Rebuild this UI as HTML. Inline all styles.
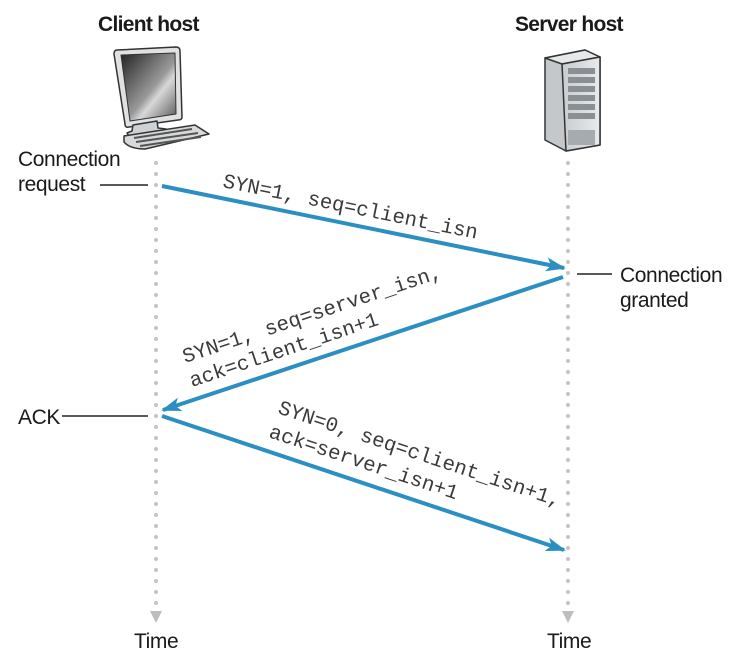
<!DOCTYPE html>
<html><head><meta charset="utf-8"><style>
html,body{margin:0;padding:0;background:#fff;}
svg{display:block;}
.h{font-family:"Liberation Sans",sans-serif;font-weight:bold;font-size:21px;fill:#1a1a1a;letter-spacing:-0.7px;}
.t{font-family:"Liberation Sans",sans-serif;font-size:21px;fill:#1a1a1a;letter-spacing:-0.4px;}
.m{font-family:"Liberation Mono",monospace;font-size:20.6px;fill:#3a3a3a;}
</style></head><body>
<svg width="741" height="666" viewBox="0 0 741 666" xmlns="http://www.w3.org/2000/svg">
<defs>
<linearGradient id="scr" x1="0" y1="0" x2="1" y2="1">
<stop offset="0" stop-color="#222"/><stop offset="0.55" stop-color="#9a9a9a"/><stop offset="0.65" stop-color="#d8d8d8"/><stop offset="1" stop-color="#555"/></linearGradient>
<linearGradient id="srv" x1="0" y1="0" x2="1" y2="0">
<stop offset="0" stop-color="#c8ccd0"/><stop offset="1" stop-color="#e8eaec"/></linearGradient>
<marker id="ah" viewBox="0 0 20 14" refX="18" refY="7" markerWidth="5" markerHeight="3.5" orient="auto" markerUnits="strokeWidth">
<path d="M0,0 L20,7 L0,14 L5,7 Z" fill="#2b8fc2"/></marker>
</defs>
<text class="h" x="98" y="31">Client host</text>
<text class="h" x="515" y="31">Server host</text>

<!-- client computer -->
<g stroke="#333" stroke-width="1.5" stroke-linejoin="round">
<path d="M117,50 L176,47 Q180,47 180,51 L182,117 Q182,120 178,120 L129,127 Q125,128 125,124 L114,54 Q114,50 117,50Z" fill="#dfe1e3"/>
<path d="M121,55 L175,53 L176,114 L130,121 Z" fill="url(#scr)" stroke-width="1"/>
<path d="M133,125 L132,131 L127,133 L130,138 L165,134 L166,129 L158,128 L157,121 Z" fill="#cfd2d4"/>
<path d="M124,136 L195,125 L209,134 L145,149 Q130,149 124,142 Z" fill="#d6d8da"/>
</g>
<g stroke="#555" stroke-width="2">
<line x1="134" y1="138" x2="192" y2="129"/><line x1="136" y1="142" x2="198" y2="133"/><line x1="140" y1="146" x2="201" y2="137"/></g>

<!-- server -->
<g stroke="#333" stroke-width="1.5" stroke-linejoin="round">
<path d="M545,58 L585,50 L600,57 L600,145 L566,151 L545,140 Z" fill="#c4c8cb"/>
<path d="M545,58 L585,50 L600,57 L562,64 Z" fill="#e6e8ea"/>
<path d="M562,64 L600,57 L600,145 L566,151 Z" fill="url(#srv)"/>
</g>
<g fill="#8a8f94">
<rect x="568" y="68" width="27" height="6"/><rect x="568" y="77" width="27" height="6"/><rect x="568" y="86" width="27" height="6"/>
<rect x="568" y="95" width="27" height="6"/><rect x="568" y="104" width="27" height="6"/><rect x="568" y="113" width="27" height="6"/>
<rect x="568" y="130" width="27" height="15" fill="#a6abaf"/></g>

<!-- timelines -->
<line x1="156" y1="163" x2="156" y2="606" stroke="#c4c4c4" stroke-width="4" stroke-linecap="round" stroke-dasharray="0 11"/>
<line x1="568" y1="163" x2="568" y2="606" stroke="#c4c4c4" stroke-width="4" stroke-linecap="round" stroke-dasharray="0 11"/>
<path d="M150,611 L162,611 L156,623 Z" fill="#bdbdbd"/>
<path d="M562,611 L574,611 L568,623 Z" fill="#bdbdbd"/>
<text class="t" x="134" y="648">Time</text>
<text class="t" x="547" y="648">Time</text>

<!-- side labels -->
<text class="t" x="18" y="166">Connection</text>
<text class="t" x="18" y="191">request</text>
<line x1="100" y1="185" x2="148" y2="185" stroke="#222" stroke-width="1.5"/>
<text class="t" x="620" y="282">Connection</text>
<text class="t" x="620" y="307">granted</text>
<line x1="577" y1="274" x2="612" y2="274" stroke="#222" stroke-width="1.5"/>
<text class="t" x="18" y="424">ACK</text>
<line x1="62" y1="416" x2="148" y2="416" stroke="#222" stroke-width="1.5"/>

<!-- arrows -->
<g stroke="#2b8fc2" stroke-width="4" marker-end="url(#ah)" fill="none">
<line x1="162" y1="186" x2="564" y2="268"/>
<line x1="563" y1="277" x2="163" y2="410"/>
<line x1="162" y1="416" x2="564" y2="550"/>
</g>

<!-- labels -->
<text class="m" transform="translate(222,187) rotate(11.5)">SYN=1, seq=client_isn</text>
<text class="m" transform="translate(185,363) rotate(-18.4)">SYN=1, seq=server_isn,</text>
<text class="m" transform="translate(192,387) rotate(-18.4)">ack=client_isn+1</text>
<text class="m" transform="translate(277,413) rotate(18.4)">SYN=0, seq=client_isn+1,</text>
<text class="m" transform="translate(268,437) rotate(18.4)">ack=server_isn+1</text>
</svg>
</body></html>
